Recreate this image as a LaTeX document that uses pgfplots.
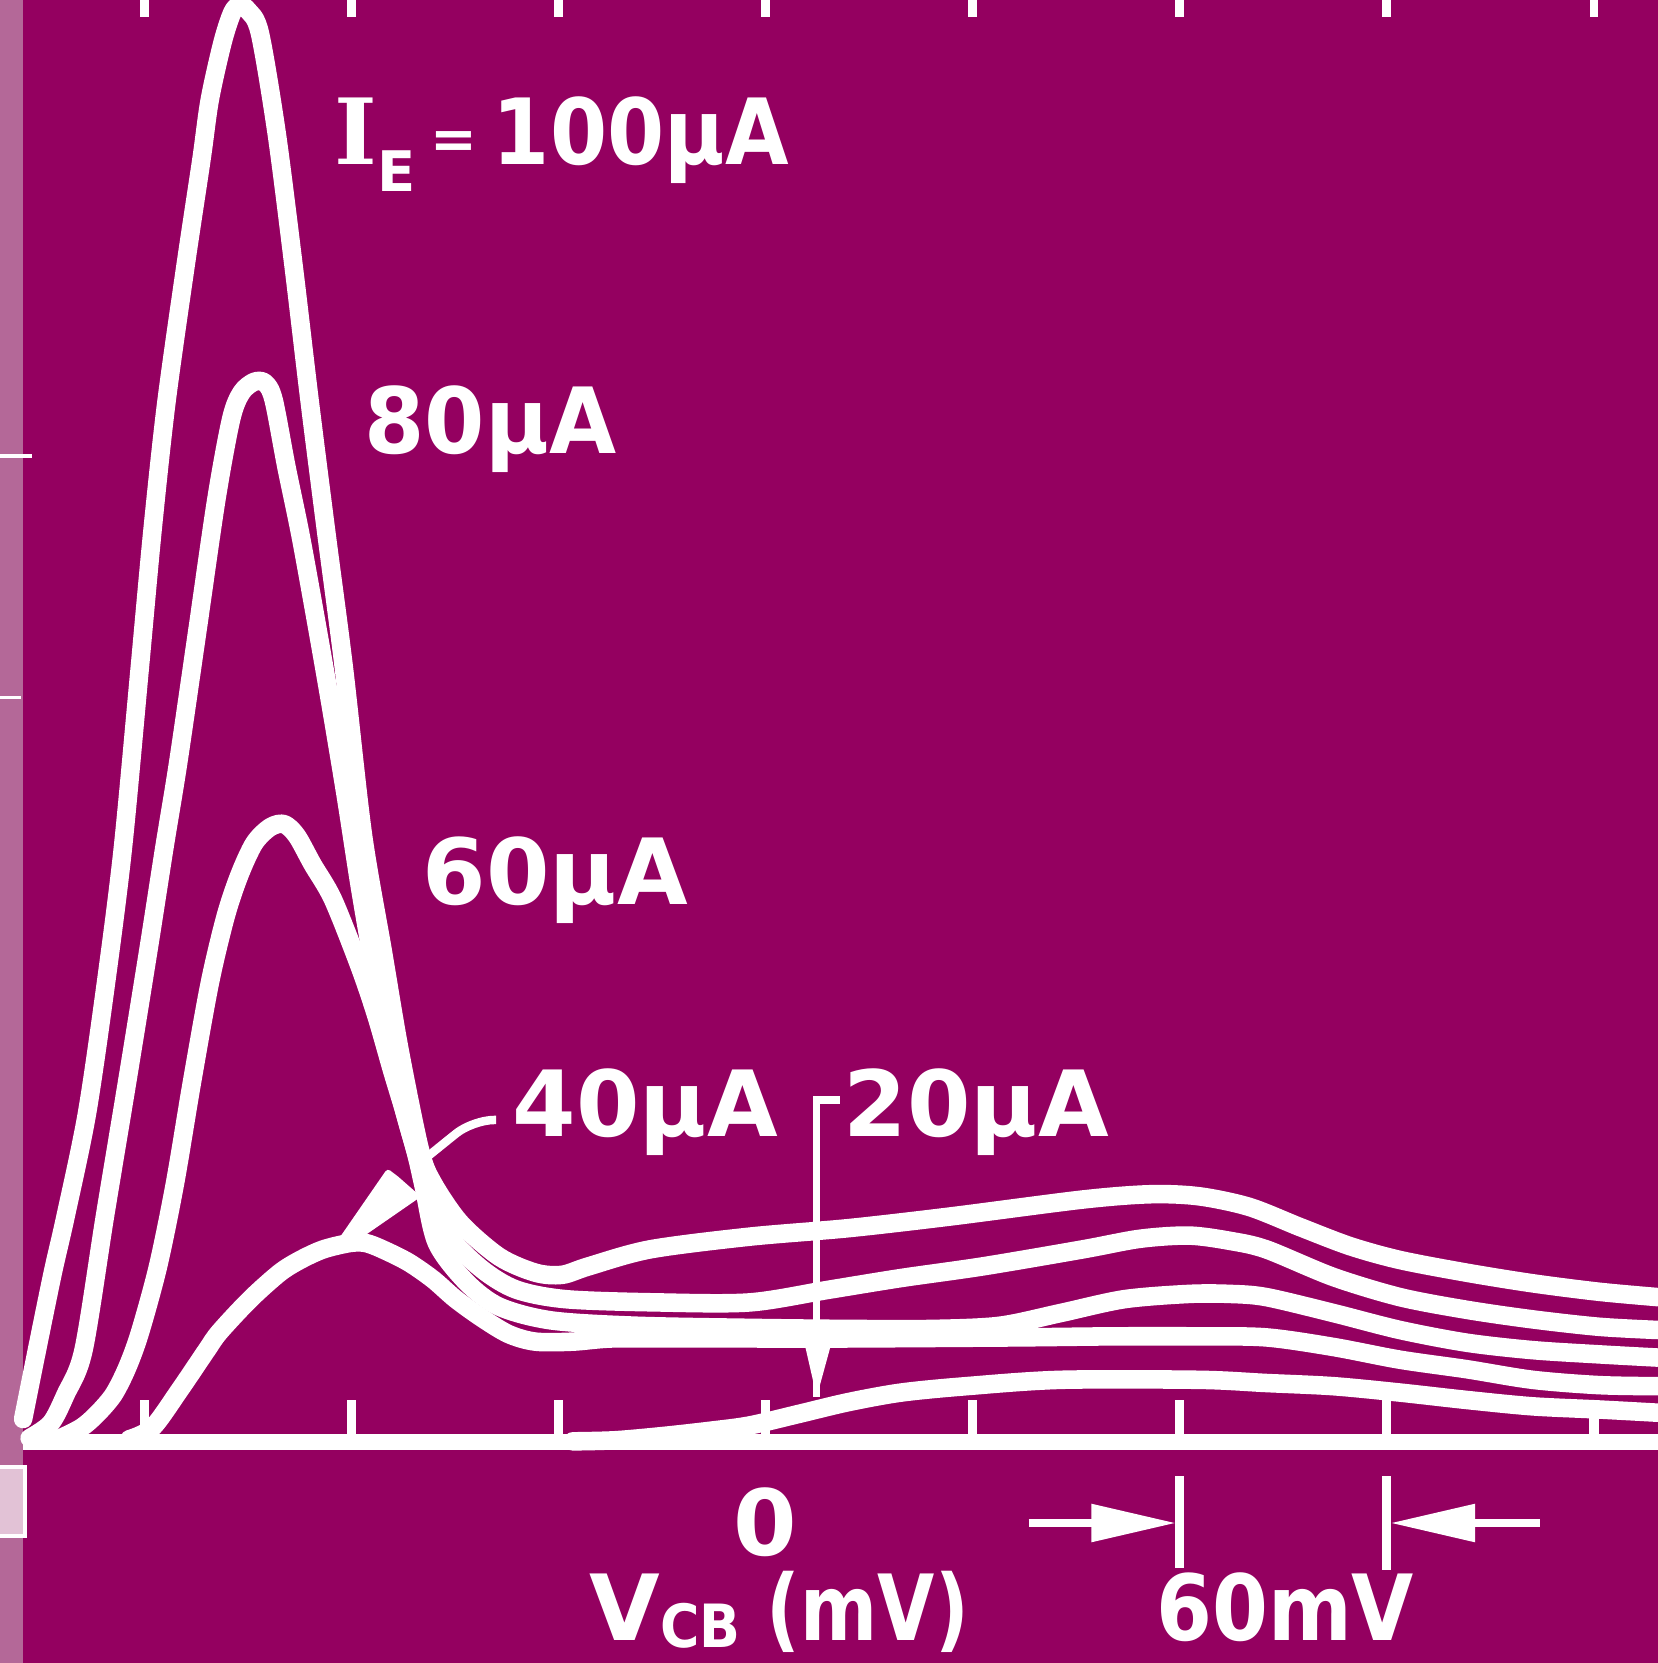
\documentclass[border=0pt]{standalone}
\usepackage{graphicx}
\usepackage{pgfplots}
\pgfplotsset{compat=1.18}
\usepackage{fontspec}
\setmainfont{DejaVu Sans}
\newfontfamily\serifI{DejaVu Serif}
\usetikzlibrary{arrows.meta}
\definecolor{bg}{RGB}{148,0,96}
\definecolor{strip}{RGB}{180,104,152}
\definecolor{boxc}{RGB}{226,194,214}
\newcommand{\lab}{\fontsize{24.5}{29}\selectfont\bfseries}
\tikzset{trace/.style={draw=white, line width=1.75mm, line cap=round, line join=round}}

\begin{document}
\begin{tikzpicture}
\begin{axis}[
  x=0.32533mm, y=0.1mm,
  xmin=-215.2, xmax=258.5, ymin=0, ymax=1360,
  axis on top, clip=false,
  axis line style={draw=none},
  xtick={-180,-120,-60,0,60,120,180,240},
  xticklabels={,,,,,,,},
  ytick=\empty,
  xtick pos=bottom, tick align=inside,
  major tick length=4mm,
  tick style={white, line width=0.9mm},
]
% background
\fill[bg] (axis cs:-221.9,-208) rectangle (axis cs:258.5,1360);
\fill[strip] (axis cs:-221.9,-208) rectangle (axis cs:-215.2,1360);
\draw[white, line width=0.3mm] (axis cs:-221.9,930) -- (axis cs:-212.7,930);
\draw[white, line width=0.3mm] (axis cs:-221.9,702) -- (axis cs:-215.8,702);
\filldraw[fill=boxc, draw=white, line width=0.35mm] (axis cs:-222.5,-23) rectangle (axis cs:-214.6,-88);
\coordinate (bbSW) at (axis cs:-221.9,-208);
\coordinate (bbNE) at (axis cs:258.5,1360);

% baseline
\addplot[white, line width=1.5mm, sharp plot, line cap=butt, mark=none] coordinates {(-215.2,0) (258.5,0)};
% top ticks
\pgfplotsinvokeforeach{-180,-120,-60,0,60,120,180,240}{
  \draw[white, line width=0.8mm] (axis cs:#1,1362) -- (axis cs:#1,1344);
}

% I_E = 100 uA
\addplot[trace, smooth, tension=0.5, mark=none] coordinates {
(-215.2,22) (-211.2,87) (-206.6,160) (-202.9,213) (-196.7,310) (-191.2,433)
(-186.3,560) (-181.4,730) (-177.7,860) (-173.7,980) (-168.1,1110) (-163.5,1210)
(-161.1,1266) (-157.4,1320) (-154.6,1348) (-152.5,1355) (-150.0,1350) (-146.6,1329)
(-141.7,1234) (-136.8,1109) (-132.2,983) (-127.3,857) (-122.3,732) (-116.8,575)
(-111.0,464) (-106.1,370) (-100.2,276) (-96.5,245) (-88.5,207) (-77.2,175)
(-66.7,160) (-59.0,158) (-51.3,166) (-33.5,182) (-4.6,194) (24.0,202)
(53.5,213) (91.9,229) (111.6,234) (125.7,232) (140.2,222) (154.9,203)
(169.4,185) (183.8,172) (203.2,160) (222.3,150) (241.6,142) (258.5,137)
};
% 80 uA
\addplot[trace, smooth, tension=0.5, mark=none] coordinates {
(-213.3,4) (-207.2,18) (-202.9,45) (-197.7,87) (-191.5,213) (-185.1,339)
(-178.9,464) (-174.3,560) (-170.3,640) (-164.8,763) (-159.2,889) (-154.9,965)
(-151.9,990) (-148.2,1000) (-145.1,999) (-142.6,983) (-138.9,920) (-134.9,857)
(-130.6,780) (-126.3,700) (-121.7,610) (-117.4,520) (-113.1,440) (-108.8,370)
(-104.5,310) (-100.5,265) (-98.4,238) (-91.6,194) (-82.1,163) (-72.2,144)
(-57.8,135) (-31.4,132) (-4.6,132) (18.4,144) (39.3,155) (63.0,166)
(91.9,182) (108.5,192) (122.7,195) (134.6,190) (145.1,182) (164.5,156)
(183.8,137) (203.2,125) (222.3,116) (241.6,109) (258.5,106)
};
% 60 uA
\addplot[trace, smooth, tension=0.5, mark=none] coordinates {
(-205.0,3) (-198.3,14) (-193.7,27) (-189.0,45) (-185.1,70) (-181.4,103)
(-176.1,166) (-171.2,244) (-166.3,339) (-161.1,433) (-156.5,496) (-152.5,535)
(-148.2,565) (-143.6,580) (-139.6,583) (-135.9,572) (-131.3,545) (-125.4,512)
(-117.7,449) (-112.8,402) (-108.2,350) (-104.5,310) (-101.1,270) (-99.0,240)
(-95.3,188) (-86.7,151) (-77.2,128) (-62.1,115) (-37.5,110) (-4.6,108)
(24.0,107) (48.6,107) (67.9,110) (85.5,122) (103.9,135) (122.7,140)
(134.6,140) (145.1,137) (164.5,122) (183.8,106) (203.2,94) (222.3,87)
(241.6,83) (258.5,80)
};
% 40 uA
\addplot[trace, smooth, tension=0.5, mark=none] coordinates {
(-184.4,3) (-177.7,14) (-169.7,50) (-162.0,87) (-158.3,104) (-149.4,135)
(-140.8,160) (-134.9,172) (-128.2,182) (-120.5,188) (-115.9,188) (-111.0,182)
(-103.6,170) (-96.5,154) (-89.8,135) (-82.1,117) (-74.4,102) (-66.7,95)
(-55.9,95) (-44.6,98) (-25.2,98) (-4.6,98) (24.0,98) (72.5,99)
(100.8,100) (125.7,100) (145.1,99) (164.5,90) (183.8,78) (203.2,69)
(222.3,59) (241.6,54) (258.5,53)
};
\addplot[draw=white, fill=white, sharp plot, line width=0.6mm, line join=round, mark=none] coordinates {
(-123.0,190) (-109.4,254) (-107.0,248) (-101.4,232) (-117.4,196)
} -- cycle;
% 20 uA
\addplot[trace, smooth, tension=0.5, mark=none] coordinates {
(-55.9,1) (-43.7,2) (-29.8,6) (-16.0,11) (-4.6,16) (9.8,27) (24.0,38)
(39.3,47) (58.1,53) (85.5,59) (125.7,59) (145.1,56) (164.5,53)
(183.8,47) (203.2,40) (222.3,34) (241.6,31) (258.5,28)
};

% leaders
\draw[white, line width=0.8mm, rounded corners=2mm] (axis cs:-78.1,304) -- (axis cs:-84.8,304) -- (axis cs:-94.4,279) -- (axis cs:-99.3,266);
\draw[white, line width=0.7mm] (axis cs:21.5,323) -- (axis cs:14.8,323) -- (axis cs:14.8,43);
\fill[white] (axis cs:10.8,100) -- (axis cs:19.6,100) -- (axis cs:14.8,43) -- cycle;

% labels
\node[anchor=base west, white, inner sep=0] at (axis cs:-125.1,1205)
  {\lab{\serifI I}\raisebox{-2.6mm}{\fontsize{15}{15}\selectfont\bfseries E}\,\raisebox{0.6mm}{\fontsize{15}{15}\selectfont\bfseries =}\,\scalebox{0.9}[1]{100μA}};
\node[anchor=base west, white, inner sep=0] at (axis cs:-116.5,932) {\lab\scalebox{0.95}[1]{80μA}};
\node[anchor=base west, white, inner sep=0] at (axis cs:-99.6,507) {\lab 60μA};
\node[anchor=base west, white, inner sep=0] at (axis cs:-73.5,288) {\lab 40μA};
\node[anchor=base west, white, inner sep=0] at (axis cs:22.4,288) {\lab 20μA};
\node[white, inner sep=0] at (axis cs:0,-75) {\lab 0};
\node[anchor=base west, white, inner sep=0] at (axis cs:-51.3,-187)
  {\lab V\raisebox{-0.6mm}{\fontsize{16}{16}\selectfont\bfseries\scalebox{0.9}[1]{CB}}\hspace{2.5mm}\scalebox{0.81}[1]{(mV)}};
\node[anchor=base west, white, inner sep=0] at (axis cs:113,-187) {\lab\scalebox{0.88}[1]{60mV}};

% scale bar
\draw[white, line width=0.8mm] (axis cs:120,-32) -- (axis cs:120,-118);
\draw[white, line width=0.8mm] (axis cs:180,-32) -- (axis cs:180,-120);
\draw[white, line width=0.8mm, -{Triangle[length=8mm,width=3.4mm]}] (axis cs:76.2,-76) -- (axis cs:119,-76);
\draw[white, line width=0.8mm, -{Triangle[length=8mm,width=3.4mm]}] (axis cs:224.4,-76) -- (axis cs:181,-76);
\end{axis}
\pgfresetboundingbox
\path[use as bounding box] (bbSW) rectangle (bbNE);
\end{tikzpicture}
\end{document}
